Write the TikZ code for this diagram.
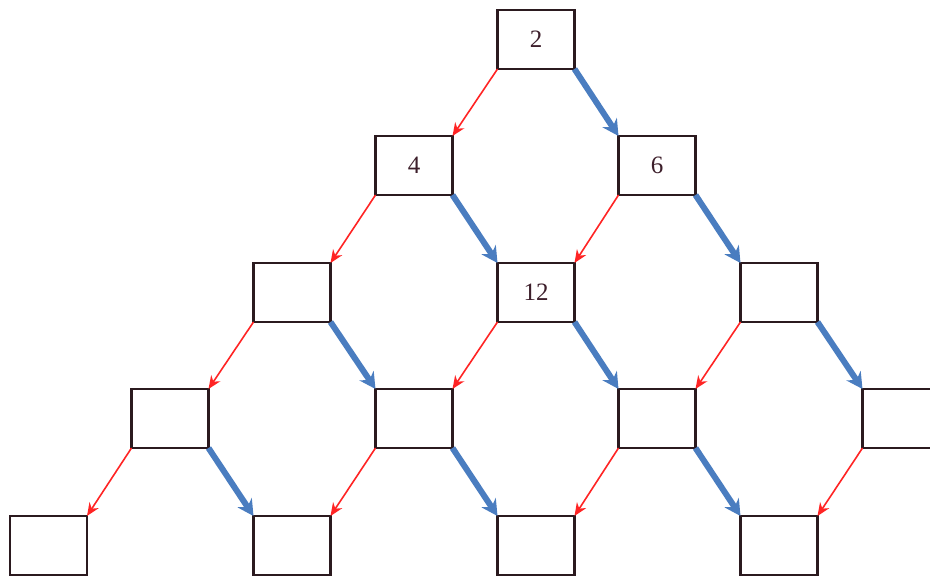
\documentclass[tikz,border=0pt]{standalone}
\usepackage{fontspec}
\setmainfont{Liberation Serif}
\usetikzlibrary{arrows.meta}
\definecolor{boxc}{HTML}{2B1A1F}
\definecolor{txtc}{HTML}{3D1F2B}
\definecolor{redc}{HTML}{FF2424}
\definecolor{bluec}{HTML}{4A7DC0}
\begin{document}
\begin{tikzpicture}[x=1pt,y=-1pt,
  cell/.style={draw=boxc, line width=2.4pt, minimum width=77pt, minimum height=59pt,
    inner sep=0pt, outer sep=0pt, font=\fontsize{25}{29}\selectfont, text=txtc},
  redarr/.style={draw=redc, line width=1.6pt, -{Stealth[length=13pt,width=11pt]}},
  bluearr/.style={draw=bluec, line width=6pt, -{Stealth[length=16pt,width=17pt]}}]
\clip (0,0) rectangle (930,577);
% row 0
\node[cell] (a0) at (536,39.5) {2};
% row 1
\node[cell] (b0) at (414,165.5) {4};
\node[cell] (b1) at (657,165.5) {6};
% row 2
\node[cell] (c0) at (292,292.5) {};
\node[cell] (c1) at (536,292.5) {12};
\node[cell] (c2) at (779,292.5) {};
% row 3
\node[cell] (d0) at (170,418.5) {};
\node[cell] (d1) at (414,418.5) {};
\node[cell] (d2) at (657,418.5) {};
\node[cell] (d3) at (901,418.5) {};
% row 4
\node[cell] (e0) at (48.5,545.5) {};
\node[cell] (e1) at (292,545.5) {};
\node[cell] (e2) at (536,545.5) {};
\node[cell] (e3) at (779,545.5) {};
% red arrows (left-down)
\draw[redarr] (a0.south west) -- (b0.north east);
\draw[redarr] (b0.south west) -- (c0.north east);
\draw[redarr] (b1.south west) -- (c1.north east);
\draw[redarr] (c0.south west) -- (d0.north east);
\draw[redarr] (c1.south west) -- (d1.north east);
\draw[redarr] (c2.south west) -- (d2.north east);
\draw[redarr] (d0.south west) -- (e0.north east);
\draw[redarr] (d1.south west) -- (e1.north east);
\draw[redarr] (d2.south west) -- (e2.north east);
\draw[redarr] (d3.south west) -- (e3.north east);
% blue arrows (right-down)
\draw[bluearr] (a0.south east) -- (b1.north west);
\draw[bluearr] (b0.south east) -- (c1.north west);
\draw[bluearr] (b1.south east) -- (c2.north west);
\draw[bluearr] (c0.south east) -- (d1.north west);
\draw[bluearr] (c1.south east) -- (d2.north west);
\draw[bluearr] (c2.south east) -- (d3.north west);
\draw[bluearr] (d0.south east) -- (e1.north west);
\draw[bluearr] (d1.south east) -- (e2.north west);
\draw[bluearr] (d2.south east) -- (e3.north west);
\end{tikzpicture}
\end{document}
